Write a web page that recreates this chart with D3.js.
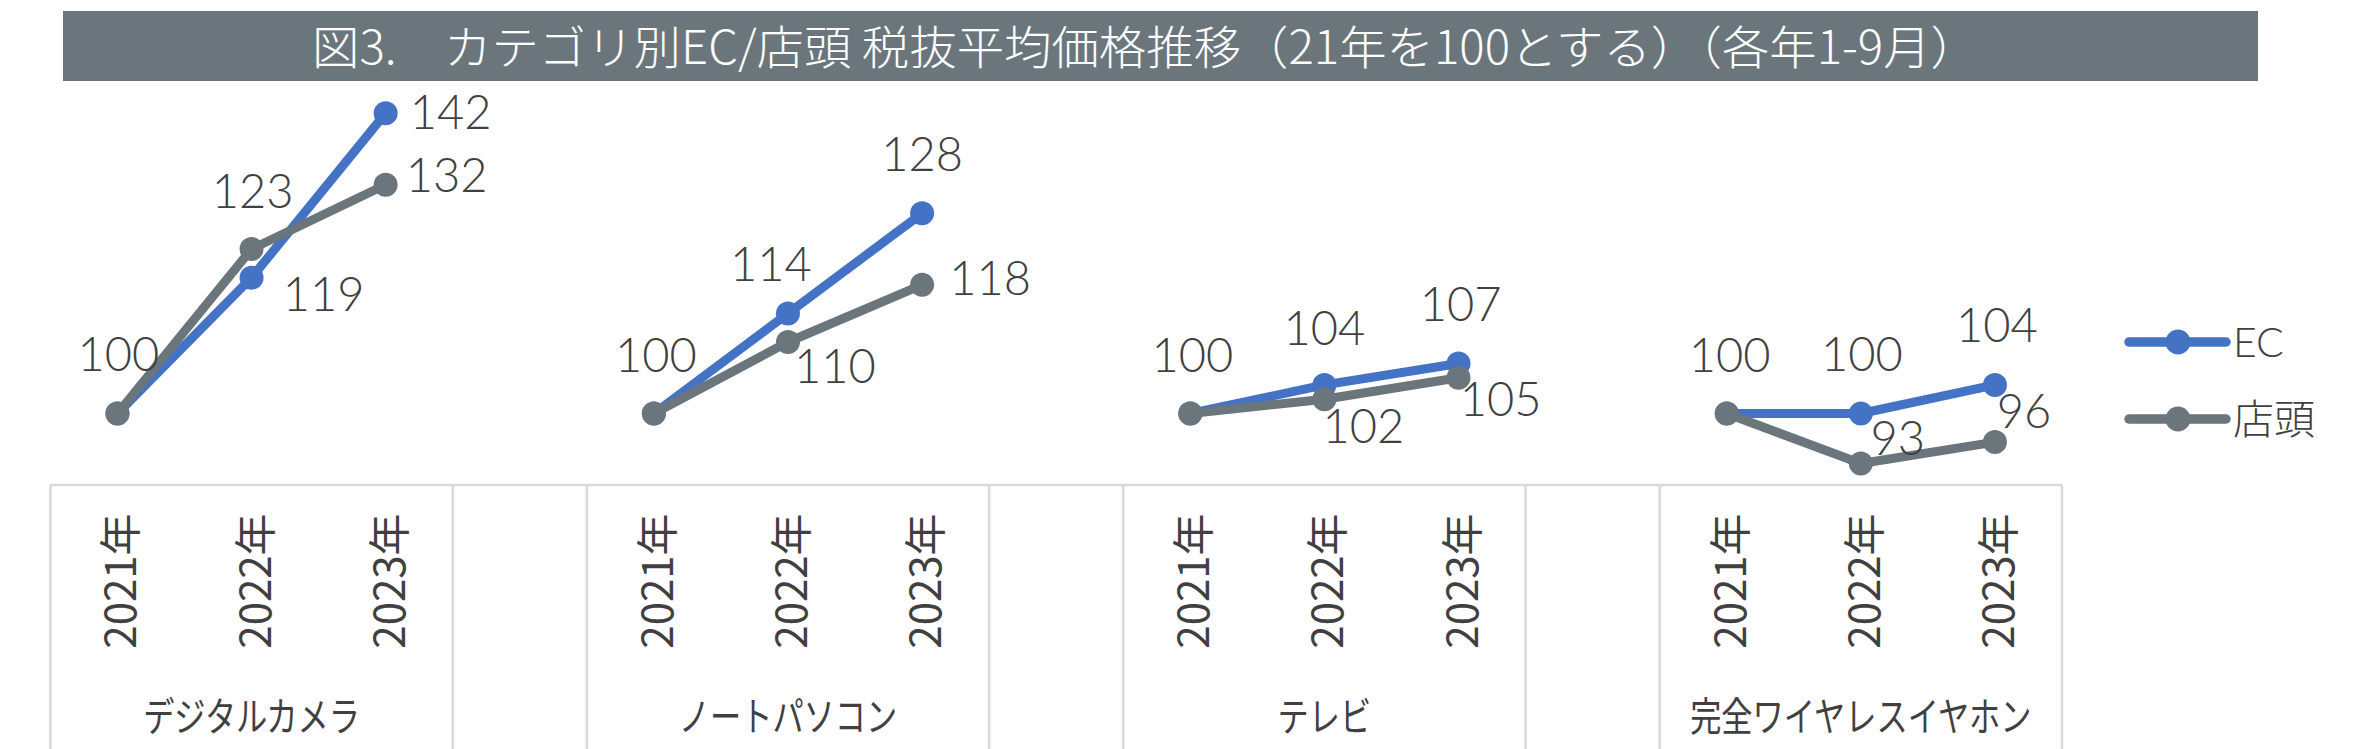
<!DOCTYPE html>
<html lang="ja">
<head>
  <meta charset="UTF-8">
  <title>カテゴリ別EC/店頭 税抜平均価格推移</title>
  <script src="https://d3js.org/d3.v7.min.js"></script>
  <style>
    body { margin: 0; background: #fff; }
    .num { font-family: Lato, 'Noto Sans CJK JP', sans-serif; font-weight: 300; fill: #404040; }
    .jp { font-family: 'Noto Sans CJK JP', sans-serif; fill: #404040; }
    .grid-line { stroke: #d9d9d9; stroke-width: 2.5; }
  </style>
</head>
<body>
<script>
  // Data
  const title = '図3.　カテゴリ別EC/店頭 税抜平均価格推移（21年を100とする）（各年1-9月）';
  const categories = ['デジタルカメラ', 'ノートパソコン', 'テレビ', '完全ワイヤレスイヤホン'];
  const years = ['2021年', '2022年', '2023年'];
  const seriesNames = ['EC', '店頭'];
  const ecValues = [[100, 119, 142], [100, 114, 128], [100, 104, 107], [100, 100, 104]];
  const storeValues = [[100, 123, 132], [100, 110, 118], [100, 102, 105], [100, 93, 96]];

  // label placement (offset from point to centre of the label)
  const ecLabelPos = [
    [[1, -60], [72, 16], [65, -1]],
    [[2, -59], [-17, -49], [0, -59]],
    [[2, -59], [0, -57], [2, -59]],
    [[3, -59], [1, -60], [2, -60]]
  ];
  const storeLabelPos = [
    [null, [1, -58], [61, -10]],
    [null, [47, 24], [68, -7]],
    [null, [39, 27], [42, 21]],
    [null, [37, -26], [29, -31]]
  ];

  const width = 2360, height = 749;
  const colors = ['#4472c4', '#6b767c'];
  const axisTop = 485;

  const svg = d3.select('body').append('svg')
    .attr('width', width)
    .attr('height', height);

  // slots: 3 years per category, a blank slot between categories
  const slots = [];
  categories.forEach((c, g) => {
    years.forEach((y, i) => slots.push(`${g}-${i}`));
    if (g < categories.length - 1) slots.push(`${g}-gap`);
  });

  const x = d3.scaleBand().domain(slots).range([50.4, 2062]).padding(0);
  const y = d3.scaleLinear().domain([90, 150]).range([axisTop, 56]);
  const cx = (g, i) => x(`${g}-${i}`) + x.bandwidth() / 2;

  // Title bar
  svg.append('rect')
    .attr('x', 63).attr('y', 11)
    .attr('width', 2195).attr('height', 70)
    .attr('fill', '#6b767c');

  svg.append('text')
    .attr('class', 'jp')
    .attr('x', 312).attr('y', 64)
    .attr('font-size', 46)
    .attr('font-weight', 300)
    .attr('textLength', 1666)
    .attr('lengthAdjust', 'spacingAndGlyphs')
    .style('fill', '#fff')
    .text(title);

  // Category axis (multi level)
  svg.append('line')
    .attr('class', 'grid-line')
    .attr('x1', x.range()[0]).attr('x2', x.range()[1])
    .attr('y1', axisTop).attr('y2', axisTop);

  const dividers = [x.range()[0]];
  slots.forEach(s => { if (s.endsWith('gap')) dividers.push(x(s), x(s) + x.bandwidth()); });
  dividers.push(x.range()[1]);
  svg.selectAll('.divider')
    .data(dividers)
    .join('line')
    .attr('class', 'grid-line divider')
    .attr('x1', d => d).attr('x2', d => d)
    .attr('y1', axisTop).attr('y2', height);

  categories.forEach((c, g) => {
    years.forEach((yr, i) => {
      const tx = cx(g, i) + 19;
      svg.append('text')
        .attr('class', 'jp')
        .attr('font-size', 42)
        .attr('text-anchor', 'middle')
        .attr('transform', `translate(${tx},581) rotate(-90)`)
        .text(yr);
    });

    const cat = svg.append('text')
      .attr('class', 'jp')
      .attr('x', cx(g, 1))
      .attr('y', 731)
      .attr('font-size', 40)
      .attr('text-anchor', 'middle')
      .text(c);
    const w = cat.node().getComputedTextLength();
    cat.attr('textLength', w * 0.78).attr('lengthAdjust', 'spacingAndGlyphs');
  });

  // Lines
  const line = d3.line()
    .x(d => d.x)
    .y(d => y(d.v));

  const allSeries = [ecValues, storeValues];
  const allLabelPos = [ecLabelPos, storeLabelPos];

  allSeries.forEach((vals, s) => {
    vals.forEach((arr, g) => {
      const pts = arr.map((v, i) => ({x: cx(g, i), v: v}));
      svg.append('path')
        .datum(pts)
        .attr('d', line)
        .attr('fill', 'none')
        .attr('stroke', colors[s])
        .attr('stroke-width', 9)
        .attr('stroke-linejoin', 'round')
        .attr('stroke-linecap', 'round');

      svg.selectAll(null)
        .data(pts)
        .join('circle')
        .attr('cx', d => d.x)
        .attr('cy', d => y(d.v))
        .attr('r', 12)
        .attr('fill', colors[s]);
    });
  });

  // Data labels
  allSeries.forEach((vals, s) => {
    vals.forEach((arr, g) => {
      arr.forEach((v, i) => {
        const pos = allLabelPos[s][g][i];
        if (!pos) return;
        svg.append('text')
          .attr('class', 'num')
          .attr('x', cx(g, i) + pos[0])
          .attr('y', y(v) + pos[1] + 17)
          .attr('font-size', 47)
          .attr('text-anchor', 'middle')
          .text(v);
      });
    });
  });

  // Legend
  seriesNames.forEach((name, s) => {
    const ly = 342 + s * 77;
    svg.append('line')
      .attr('x1', 2129).attr('x2', 2226)
      .attr('y1', ly).attr('y2', ly)
      .attr('stroke', colors[s])
      .attr('stroke-width', 9.5)
      .attr('stroke-linecap', 'round');
    svg.append('circle')
      .attr('cx', 2178).attr('cy', ly)
      .attr('r', 12.5)
      .attr('fill', colors[s]);
    svg.append('text')
      .attr('class', 'num')
      .attr('x', 2233)
      .attr('y', ly + 15)
      .attr('font-size', 41)
      .text(name);
  });
</script>
</body>
</html>
